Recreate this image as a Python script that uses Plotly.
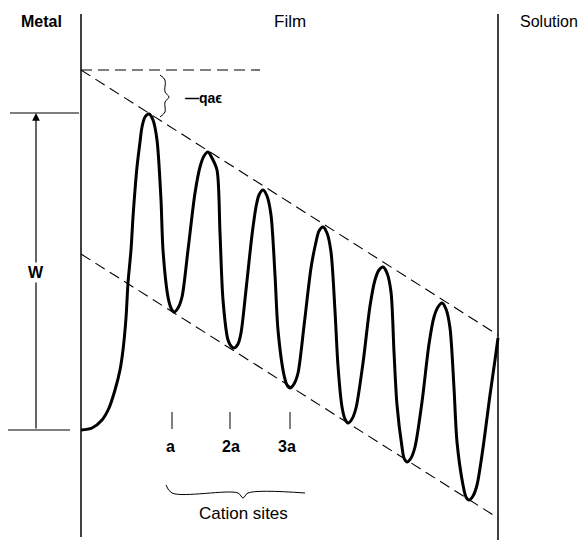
import plotly.graph_objects as go

# Distance through film (arbitrary units, metal/film interface = 0) and energy (arbitrary units)
curve_x = [0.0, 1.1, 2.1, 2.8, 3.4, 3.9, 4.2, 4.5, 4.7, 5.0, 5.2, 5.4, 5.6, 5.9, 6.1, 6.4, 6.8,
           7.2, 7.6, 8.0, 8.2, 8.7, 9.0, 9.3,
           9.7, 10.1, 10.7, 11.4, 11.9, 12.3, 12.7,
           13.1, 13.6, 13.9, 14.2, 14.7, 15.0, 15.3,
           15.7, 16.0, 16.5, 17.1, 17.5, 17.8, 18.2,
           18.6, 19.0, 19.4, 19.7, 20.3, 20.6, 20.9,
           21.3, 21.7, 22.3, 23.0, 23.5, 23.8, 24.2,
           24.6, 25.0, 25.4, 25.7, 26.1, 26.4, 26.7,
           27.1, 27.5, 28.2, 28.9, 29.4, 29.8, 30.2,
           30.6, 31.0, 31.3, 31.6, 32.1, 32.3, 32.6,
           33.0, 33.4, 34.1, 34.8, 35.3, 35.7, 36.1,
           36.5, 36.9, 37.3, 37.6, 38.2, 38.5, 38.8,
           39.2, 39.6, 40.2, 40.9, 41.4, 41.7]
curve_e = [0.0, 0.2, 1.0, 2.2, 4.0, 6.0, 8.0, 11.2, 14.7, 18.0, 21.3, 24.0, 26.3, 28.8, 30.3, 31.3, 31.6,
           31.0, 29.0, 23.0, 18.0, 13.3, 12.2, 11.8,
           12.2, 13.3, 18.0, 23.7, 26.3, 27.4, 27.8,
           27.2, 26.0, 19.7, 13.0, 9.0, 8.4, 8.2,
           8.6, 9.7, 14.0, 19.5, 22.3, 23.5, 24.0,
           23.4, 21.5, 15.5, 10.0, 5.5, 4.5, 4.2,
           4.6, 5.7, 10.4, 16.2, 18.8, 19.9, 20.3,
           19.7, 17.8, 11.9, 6.4, 2.3, 1.1, 0.7,
           1.1, 2.2, 6.7, 12.4, 15.0, 16.0, 16.3,
           15.7, 13.8, 7.8, 2.5, -1.7, -2.8, -3.2,
           -2.8, -1.7, 2.8, 8.6, 11.3, 12.3, 12.7,
           12.1, 10.2, 4.2, -1.2, -5.5, -6.7, -7.0,
           -6.6, -5.5, -1.8, 3.5, 7.0, 9.2]

# Envelope lines (dashed)
upper_x = [0.0, 41.7]
upper_e = [36.0, 9.5]
lower_x = [0.0, 41.7]
lower_e = [17.6, -8.8]
level_x = [0.0, 17.9]
level_e = [36.0, 36.0]

# Interfaces
metal_x = [0.0, 0.0]
metal_e = [41.6, -10.7]
soln_x = [41.7, 41.7]
soln_e = [41.6, -11.0]

# Barrier height W
w_top_x = [-7.1, -0.2]
w_top_e = [31.7, 31.7]
w_bot_x = [-7.3, -1.1]
w_bot_e = [0.0, 0.0]
w_arrow_x = -4.5
w_arrow_e = [0.0, 31.7]

# -qa eps brace
qbrace_x = [7.9, 8.4, 8.4, 8.8, 8.4, 8.4, 7.9]
qbrace_e = [35.5, 35.0, 33.8, 33.3, 32.8, 31.8, 31.3]

# Cation sites
site_x = [9.1, 14.9, 20.9]
site_label_x = [8.9, 15.0, 20.6]
site_labels = ["a", "2a", "3a"]
site_tick_e = [1.8, 0.1]
sbrace_x = [8.5, 9.1, 15.7, 16.2, 16.7, 22.4]
sbrace_e = [-5.5, -6.3, -6.3, -6.8, -6.3, -6.3]

fig = go.Figure()
K = "black"
dash = "11px,6px"

def line(x, y, width=1.2, dash_=None, shape="linear"):
    fig.add_trace(go.Scatter(x=x, y=y, mode="lines", hoverinfo="skip", showlegend=False,
                             line=dict(color=K, width=width, dash=dash_, shape=shape)))

line(metal_x, metal_e, 1.5)
line(soln_x, soln_e, 1.5)
line(level_x, level_e, 1.1, dash)
line(upper_x, upper_e, 1.1, dash)
line(lower_x, lower_e, 1.1, dash)
line(w_top_x, w_top_e, 1.2)
line(w_bot_x, w_bot_e, 1.2)
line(qbrace_x, qbrace_e, 1.0, None, "spline")
line(sbrace_x, sbrace_e, 1.0, None, "spline")
for sx in site_x:
    line([sx, sx], site_tick_e, 1.0)
fig.add_trace(go.Scatter(x=curve_x, y=curve_e, mode="lines", hoverinfo="skip", showlegend=False,
                         line=dict(color=K, width=3, shape="spline", smoothing=0.8)))

FONT = "Liberation Sans, Arial, sans-serif"

def text(x, y, t, size=16, bold=False, bg=None):
    fig.add_annotation(x=x, y=y, xref="x", yref="y", text=("<b>%s</b>" % t) if bold else t,
                       showarrow=False, font=dict(family=FONT, size=size, color=K),
                       bgcolor=bg, borderpad=1)

fig.add_annotation(x=w_arrow_x, y=w_arrow_e[1], ax=w_arrow_x, ay=w_arrow_e[0],
                   xref="x", yref="y", axref="x", ayref="y", text="", showarrow=True,
                   arrowhead=2, arrowsize=1.3, arrowwidth=1.2, arrowcolor=K, standoff=0)

text(-4.0, 40.9, "Metal", 16, True)
text(20.9, 40.9, "Film", 17)
text(46.8, 40.9, "Solution", 16)
text(w_arrow_x, 15.8, "W", 16, True, "white")
text(12.2, 33.2, "—qaϵ", 14, True)
for sx, lab in zip(site_label_x, site_labels):
    text(sx, -1.6, lab, 16, True)
text(16.2, -8.3, "Cation sites", 17)

# page body has an 8px margin, so the figure is 8px smaller and the ranges start 8px in
fig.update_layout(width=578, height=537, margin=dict(l=0, r=0, t=0, b=0, pad=0),
                  plot_bgcolor="white", paper_bgcolor="white",
                  xaxis=dict(range=[-7.3, 50.5], visible=False, fixedrange=True),
                  yaxis=dict(range=[-11.5, 42.2], visible=False, fixedrange=True))
fig.write_html("out.html")
